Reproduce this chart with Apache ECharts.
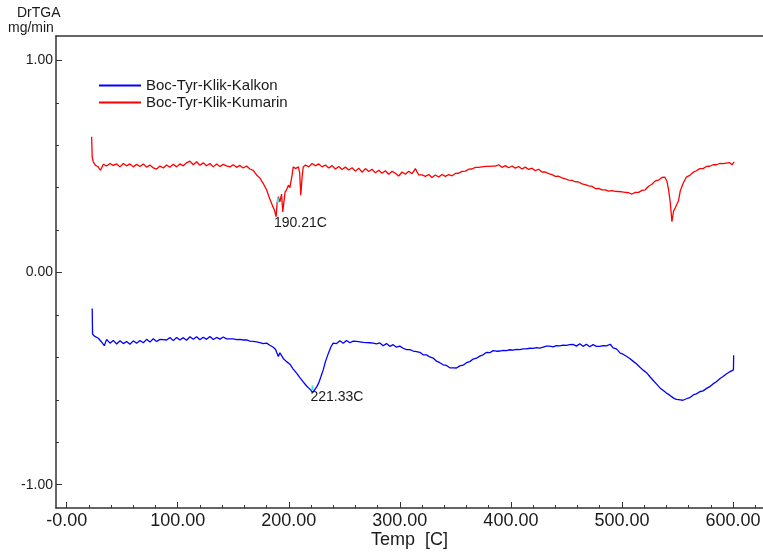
<!DOCTYPE html>
<html>
<head>
<meta charset="utf-8">
<script src="https://cdn.jsdelivr.net/npm/echarts@6/dist/echarts.min.js"></script>
<style>
  html, body { margin: 0; padding: 0; background: #fff; }
  #chart { width: 763px; height: 555px; }
</style>
</head>
<body>
<div id="chart"></div>
<script>
// tick labels
const xMajor = [0, 100, 200, 300, 400, 500, 600];
const xMinor = [20, 40, 60, 80, 120, 140, 160, 180, 220, 240, 260, 280, 320, 340, 360, 380,
  420, 440, 460, 480, 520, 540, 560, 580, 620];
const yMajor = [-1, 0, 1];
const yMinor = [-0.8, -0.6, -0.4, -0.2, 0.2, 0.4, 0.6, 0.8];

// Boc-Tyr-Klik-Kumarin (red)
const redTemp = [22.5, 23, 24, 26, 28, 30.5, 33, 36, 39, 42, 45, 48, 51, 54, 57, 60, 63, 66, 69, 72,
  75, 78, 81, 84, 87, 90, 93, 96, 99, 102, 105, 108, 111, 114, 117, 120, 123, 126, 129, 132,
  135, 138, 141, 144, 147, 150, 153, 156, 159, 162, 165, 168, 171, 174, 177, 180, 183, 185, 187, 188.6,
  189.5, 190.6, 192, 193.5, 194.6, 196.7, 198, 199.7, 201, 203, 204, 206, 208.7, 209.8, 210.8, 212, 213, 215, 218, 221,
  224, 227, 230, 233, 236, 239, 242, 245, 248, 251, 254, 257, 260, 263, 266, 269, 272, 275, 278, 281,
  284, 287, 290, 293, 296, 299, 302, 305, 308, 311, 314, 317, 320, 323, 326, 329, 332, 335, 338, 341,
  344, 347, 350, 353, 356, 359, 362, 365, 368, 371, 374, 377, 380, 383, 386, 389, 392, 395, 398, 401,
  404, 407, 410, 413, 416, 419, 422, 425, 428, 431, 434, 437, 440, 443, 446, 449, 452, 455, 458, 461,
  464, 467, 470, 473, 476, 479, 482, 485, 488, 491, 494, 497, 500, 503, 506, 509, 512, 515, 518, 521,
  524, 527, 530, 533, 536, 538.5, 540.5, 542, 543.5, 545, 546.5, 548, 549.5, 551, 552.5, 555, 558, 561, 564, 567,
  570, 573, 576, 579, 582, 585, 588, 591, 594, 597, 599, 601];
const redDrTGA = [0.64, 0.545, 0.52, 0.505, 0.50, 0.482, 0.51, 0.502, 0.514, 0.505, 0.512, 0.498, 0.514, 0.503, 0.512, 0.498, 0.51, 0.5, 0.512, 0.497,
  0.507, 0.493, 0.488, 0.502, 0.493, 0.507, 0.496, 0.51, 0.498, 0.512, 0.503, 0.517, 0.525, 0.508, 0.522, 0.506, 0.517, 0.503, 0.514, 0.498,
  0.512, 0.5, 0.51, 0.503, 0.498, 0.508, 0.496, 0.505, 0.493, 0.502, 0.488, 0.482, 0.46, 0.445, 0.42, 0.39, 0.345, 0.32, 0.295, 0.263,
  0.33, 0.357, 0.333, 0.37, 0.286, 0.38, 0.39, 0.412, 0.40, 0.46, 0.498, 0.49, 0.498, 0.47, 0.365, 0.45, 0.498, 0.507, 0.498, 0.514,
  0.503, 0.512, 0.498, 0.507, 0.493, 0.504, 0.488, 0.5, 0.486, 0.497, 0.483, 0.494, 0.478, 0.492, 0.473, 0.49, 0.476, 0.487, 0.47, 0.482,
  0.468, 0.48, 0.463, 0.477, 0.468, 0.455, 0.474, 0.463, 0.477, 0.466, 0.49, 0.46, 0.46, 0.453, 0.462, 0.448, 0.46, 0.45, 0.462, 0.453,
  0.462, 0.456, 0.467, 0.468, 0.477, 0.478, 0.487, 0.488, 0.496, 0.496, 0.498, 0.5, 0.5, 0.502, 0.502, 0.508, 0.496, 0.504, 0.494, 0.502,
  0.492, 0.5, 0.488, 0.497, 0.486, 0.492, 0.48, 0.487, 0.474, 0.474, 0.466, 0.462, 0.453, 0.454, 0.446, 0.442, 0.436, 0.434, 0.428, 0.427,
  0.418, 0.414, 0.408, 0.406, 0.396, 0.397, 0.39, 0.39, 0.384, 0.386, 0.383, 0.382, 0.38, 0.378, 0.376, 0.37, 0.378, 0.378, 0.387, 0.39,
  0.407, 0.416, 0.432, 0.436, 0.448, 0.45, 0.43, 0.39, 0.33, 0.24, 0.29, 0.305, 0.31, 0.34, 0.385, 0.42, 0.45, 0.458, 0.472, 0.48,
  0.49, 0.49, 0.5, 0.501, 0.508, 0.508, 0.514, 0.513, 0.516, 0.518, 0.508, 0.522];

// Boc-Tyr-Klik-Kalkon (blue)
const blueTemp = [23, 23.3, 25, 28.5, 31, 33.9, 36, 39, 42, 45, 48, 51, 54, 57, 60, 63, 66, 69, 72, 75,
  78, 81, 84, 87, 90, 93, 96, 99, 102, 105, 108, 111, 114, 117, 120, 123, 126, 129, 132, 135,
  138, 141, 144, 147, 150, 153, 156, 159, 162, 165, 168, 171, 174, 177, 180, 183, 186, 188, 190.6, 192,
  195, 198, 201, 204, 207, 210, 213, 216, 218, 220, 221.3, 223, 225, 227, 229, 231, 233, 235.7, 238, 240,
  243, 246, 249, 252, 255, 258, 261, 264, 267, 270, 273, 276, 279, 282, 285, 288, 291, 294, 297, 300,
  303, 306, 309, 312, 315, 318, 321, 324, 327, 330, 333, 336, 339, 342, 345, 348, 351, 354, 357, 360,
  363, 366, 369, 372, 375, 378, 381, 384, 387, 390, 393, 396, 399, 402, 405, 408, 411, 414, 417, 420,
  423, 426, 429, 432, 435, 438, 441, 444, 447, 450, 453, 456, 459, 462, 465, 468, 471, 474, 477, 480,
  483, 486, 489.5, 492, 495, 498.5, 501, 504, 507, 510.5, 513, 516, 519, 522.5, 525, 528, 531, 534.5, 537, 540,
  543, 546.5, 549, 552.5, 555, 558, 561, 564.5, 567, 570, 573, 576.6, 579, 582, 585, 588.6, 591, 594, 597, 600.4,
  600.6];
const blueDrTGA = [-0.17, -0.29, -0.30, -0.31, -0.325, -0.345, -0.315, -0.333, -0.32, -0.337, -0.322, -0.335, -0.325, -0.338, -0.322, -0.333, -0.32, -0.331, -0.315, -0.328,
  -0.312, -0.325, -0.315, -0.316, -0.318, -0.306, -0.321, -0.306, -0.318, -0.307, -0.319, -0.303, -0.315, -0.303, -0.317, -0.305, -0.315, -0.302, -0.316, -0.306,
  -0.314, -0.304, -0.313, -0.313, -0.313, -0.316, -0.315, -0.318, -0.318, -0.323, -0.325, -0.327, -0.33, -0.335, -0.333, -0.343, -0.352, -0.362, -0.396, -0.378,
  -0.405, -0.42, -0.432, -0.455, -0.474, -0.495, -0.515, -0.535, -0.545, -0.555, -0.565, -0.555, -0.54, -0.52, -0.49, -0.459, -0.42, -0.38, -0.35, -0.333,
  -0.335, -0.322, -0.333, -0.32, -0.331, -0.323, -0.325, -0.327, -0.329, -0.33, -0.331, -0.333, -0.336, -0.332, -0.345, -0.335, -0.348, -0.34, -0.352, -0.347,
  -0.357, -0.363, -0.363, -0.37, -0.373, -0.376, -0.388, -0.388, -0.398, -0.403, -0.418, -0.425, -0.435, -0.438, -0.449, -0.449, -0.45, -0.44, -0.437, -0.425,
  -0.42, -0.408, -0.404, -0.394, -0.388, -0.376, -0.378, -0.368, -0.371, -0.37, -0.367, -0.368, -0.364, -0.366, -0.362, -0.363, -0.36, -0.36, -0.357, -0.358,
  -0.354, -0.356, -0.352, -0.347, -0.347, -0.35, -0.345, -0.346, -0.342, -0.343, -0.34, -0.339, -0.347, -0.336, -0.348, -0.338, -0.35, -0.34, -0.348, -0.348,
  -0.345, -0.346, -0.338, -0.355, -0.36, -0.38, -0.385, -0.395, -0.405, -0.42, -0.43, -0.445, -0.46, -0.474, -0.49, -0.508, -0.525, -0.545, -0.555, -0.568,
  -0.578, -0.592, -0.598, -0.60, -0.602, -0.595, -0.59, -0.576, -0.572, -0.562, -0.558, -0.545, -0.538, -0.525, -0.515, -0.498, -0.49, -0.478, -0.468, -0.459,
  -0.39];

const seriesNames = ['Boc-Tyr-Klik-Kalkon', 'Boc-Tyr-Klik-Kumarin'];
const peakLabels = ['221.33C', '190.21C'];

const FONT = "'Liberation Sans', Arial, sans-serif";
const AXIS_COLOR = '#333';
const xMin = -9.6, xMax = 627;
const yMin = -1.11, yMax = 1.115;

function zip(xs, ys) {
  return xs.map((x, i) => [x, ys[i]]);
}

let chartDom = document.getElementById('chart');
let chart = echarts.init(chartDom, null, { renderer: 'canvas' });

let option = {
  animation: false,
  backgroundColor: '#fff',
  grid: { left: 56, top: 36, right: 0, bottom: 47, outerBoundsMode: 'none', containLabel: false },
  graphic: [
    { type: 'text', left: 17, top: 6, style: { text: 'DrTGA', font: '14px ' + FONT, fill: '#1a1a1a' } },
    { type: 'text', left: 8, top: 21, style: { text: 'mg/min', font: '14px ' + FONT, fill: '#1a1a1a' } }
  ],
  legend: {
    data: seriesNames,
    orient: 'vertical',
    left: 99,
    top: 77,
    padding: 0,
    itemGap: 0,
    itemWidth: 42,
    itemHeight: 2,
    icon: 'rect',
    textStyle: { fontFamily: FONT, fontSize: 15, lineHeight: 17, color: '#1a1a1a' }
  },
  xAxis: [
    {
      type: 'value', min: xMin, max: xMax, position: 'bottom',
      name: 'Temp  [C]', nameLocation: 'middle', nameGap: 23, nameMoveOverlap: false,
      nameTextStyle: { fontFamily: FONT, fontSize: 18, color: '#1a1a1a' },
      axisLine: { show: true, onZero: false, lineStyle: { color: AXIS_COLOR, width: 1.5 } },
      axisTick: { show: true, inside: true, length: 6, customValues: xMajor, lineStyle: { color: AXIS_COLOR } },
      axisLabel: {
        customValues: xMajor, margin: 4, fontFamily: FONT, fontSize: 18, color: '#1a1a1a',
        formatter: (v) => (v === 0 ? '-0.00' : v.toFixed(2))
      },
      splitLine: { show: false }
    },
    {
      type: 'value', min: xMin, max: xMax, position: 'bottom',
      axisLine: { show: false, onZero: false },
      axisTick: { show: true, inside: true, length: 3, customValues: xMinor, lineStyle: { color: AXIS_COLOR } },
      axisLabel: { show: false },
      splitLine: { show: false }
    },
    {
      type: 'value', min: xMin, max: xMax, position: 'top',
      axisLine: { show: true, onZero: false, lineStyle: { color: AXIS_COLOR, width: 1.5 } },
      axisTick: { show: false },
      axisLabel: { show: false },
      splitLine: { show: false }
    }
  ],
  yAxis: [
    {
      type: 'value', min: yMin, max: yMax, position: 'left',
      axisLine: { show: true, onZero: false, lineStyle: { color: AXIS_COLOR, width: 1.5 } },
      axisTick: { show: true, inside: true, length: 6, customValues: yMajor, lineStyle: { color: AXIS_COLOR } },
      axisLabel: {
        customValues: yMajor, margin: 3, fontFamily: FONT, fontSize: 14, color: '#1a1a1a',
        formatter: (v) => v.toFixed(2)
      },
      splitLine: { show: false }
    },
    {
      type: 'value', min: yMin, max: yMax, position: 'left',
      axisLine: { show: false, onZero: false },
      axisTick: { show: true, inside: true, length: 3, customValues: yMinor, lineStyle: { color: AXIS_COLOR } },
      axisLabel: { show: false },
      splitLine: { show: false }
    }
  ],
  series: [
    {
      name: seriesNames[0],
      type: 'line',
      xAxisIndex: 0, yAxisIndex: 0,
      showSymbol: false,
      color: '#0000ff',
      lineStyle: { width: 1.3 },
      data: zip(blueTemp, blueDrTGA),
      markPoint: {
        silent: true,
        symbol: 'rect',
        symbolSize: [2, 5],
        itemStyle: { color: '#3fe6ee' },
        data: [{
          coord: [221.33, -0.5435],
          label: {
            show: true, formatter: peakLabels[0], position: 'inside', align: 'left', verticalAlign: 'middle',
            offset: [-2, 9], fontFamily: FONT, fontSize: 14, color: '#1a1a1a'
          }
        }]
      }
    },
    {
      name: seriesNames[1],
      type: 'line',
      xAxisIndex: 0, yAxisIndex: 0,
      showSymbol: false,
      color: '#ff0000',
      lineStyle: { width: 1.3 },
      data: zip(redTemp, redDrTGA),
      markPoint: {
        silent: true,
        symbol: 'rect',
        symbolSize: [2, 5],
        itemStyle: { color: '#3fe6ee' },
        data: [{
          coord: [190.21, 0.34],
          label: {
            show: true, formatter: peakLabels[1], position: 'inside', align: 'left', verticalAlign: 'middle',
            offset: [-4, 23], fontFamily: FONT, fontSize: 14, color: '#1a1a1a'
          }
        }]
      }
    }
  ]
};

option && chart.setOption(option);
</script>
</body>
</html>
